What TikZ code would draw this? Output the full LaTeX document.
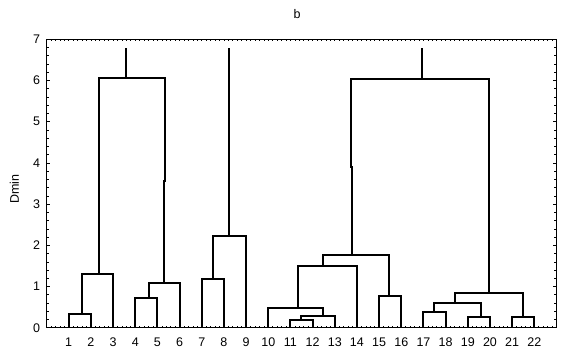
\documentclass[tikz,border=0pt]{standalone}
\usepackage{fontspec}
\setmainfont{Liberation Sans}
\usetikzlibrary{positioning}

\newcommand{\Link}[5]{\draw[link] (#1,#2) |- (#3,#5) -- (#3,#4);}

\begin{document}
\begin{tikzpicture}[x=22.17pt,y=41.2pt,
  link/.style={line width=2pt,line join=miter},
  frame/.style={line width=1pt},
  tick/.style={line width=0.6pt},
  lbl/.style={font=\fontsize{12.5}{14}\selectfont,inner sep=0pt}]
  \useasboundingbox (-2.099,-0.760) rectangle (23.88,7.954);

  % frame and ticks
  \draw[frame] (0,0) rectangle (23,7);
  \foreach \k in {1,...,114} {
    \draw[tick] (\k*0.2,0) -- ++(0,2pt);
    \draw[tick] (\k*0.2,7) -- ++(0,-2pt);
  }
  \foreach \k in {1,...,34} {
    \draw[tick] (0,\k*0.2) -- ++(2pt,0);
    \draw[tick] (23,\k*0.2) -- ++(-2pt,0);
  }
  \foreach \v in {0,...,7} {
    \draw[tick] (0,\v) -- ++(3.5pt,0);
    \draw[tick] (23,\v) -- ++(-3.5pt,0);
    \node[lbl,anchor=east] (y\v) at (-0.28,\v) {\v};
  }
  \foreach \i in {1,...,22}
    \node[lbl] (x\i) at (\i,-0.347) {\i};

  \node[lbl,rotate=90] (ylab) at (-1.454,3.37) {Dmin};
  \node[lbl] (title) at (11.30,7.61) {b};

  % cluster 1-6
  \Link{1}{0}{2}{0}{0.34}
  \Link{1.60}{0.34}{3}{0}{1.30}
  \Link{4}{0}{5}{0}{0.73}
  \Link{4.62}{0.73}{6}{0}{1.09}
  \draw[link] (2.37,1.30) |- (5.34,6.06) -- (5.34,3.56) -- (5.28,3.56) -- (5.28,1.09);
  \draw[link] (3.57,6.06) -- (3.57,6.8);

  % cluster 7-9
  \Link{7}{0}{8}{0}{1.19}
  \Link{7.50}{1.19}{9}{0}{2.23}
  \draw[link] (8.23,2.23) -- (8.23,6.8);

  % cluster 10-22
  \Link{11}{0}{12}{0}{0.19}
  \Link{11.46}{0.19}{13}{0}{0.29}
  \Link{10}{0}{12.47}{0.29}{0.49}
  \Link{11.33}{0.49}{14}{0}{1.50}
  \Link{15}{0}{16}{0}{0.77}
  \Link{12.46}{1.50}{15.43}{0.77}{1.76}
  \Link{17}{0}{18}{0}{0.37}
  \Link{19}{0}{20}{0}{0.26}
  \Link{17.46}{0.37}{19.6}{0.26}{0.61}
  \Link{21}{0}{22}{0}{0.26}
  \Link{18.41}{0.61}{21.48}{0.26}{0.85}
  \draw[link] (13.76,1.76) -- (13.76,3.91) -- (13.73,3.91) |- (19.94,6.04) -- (19.94,0.85);
  \draw[link] (16.94,6.04) -- (16.94,6.8);
\end{tikzpicture}
\end{document}
